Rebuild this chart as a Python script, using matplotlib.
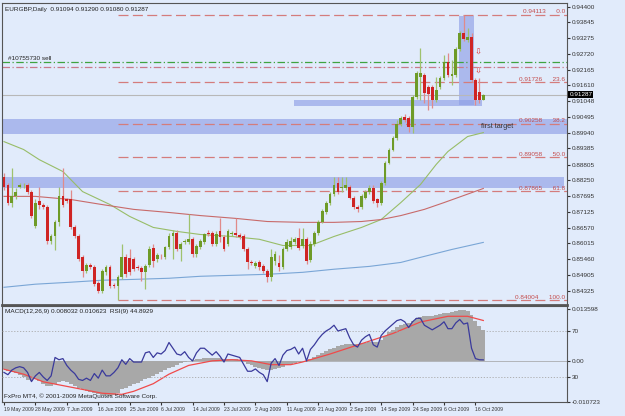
import numpy as np
import matplotlib.pyplot as plt
import matplotlib.transforms as mtrans
from matplotlib.patches import Rectangle

plt.rcParams['font.family'] = ['Liberation Sans', 'DejaVu Sans']

# EURGBP daily candles
opens = [0.8835, 0.8810, 0.8746, 0.8768, 0.8803, 0.8807, 0.8810, 0.8782, 0.8662, 0.8750,
         0.8739, 0.8732, 0.8609, 0.8626, 0.8679, 0.8768, 0.8757, 0.8757, 0.8658, 0.8626,
         0.8552, 0.8502, 0.8524, 0.8517, 0.8460, 0.8432, 0.8499, 0.8517, 0.8453, 0.8449,
         0.8481, 0.8555, 0.8548, 0.8545, 0.8517, 0.8513, 0.8499, 0.8524, 0.8584, 0.8545,
         0.8555, 0.8552, 0.8587, 0.8626, 0.8640, 0.8580, 0.8605, 0.8605, 0.8616, 0.8563,
         0.8587, 0.8605, 0.8640, 0.8637, 0.8598, 0.8644, 0.8623, 0.8598, 0.8633, 0.8637,
         0.8630, 0.8626, 0.8580, 0.8534, 0.8520, 0.8534, 0.8520, 0.8502, 0.8481, 0.8538,
         0.8531, 0.8517, 0.8580, 0.8587, 0.8605, 0.8619, 0.8591, 0.8616, 0.8541, 0.8601,
         0.8637, 0.8679, 0.8711, 0.8746, 0.8775, 0.8814, 0.8796, 0.8799, 0.8803, 0.8764,
         0.8732, 0.8729, 0.8764, 0.8782, 0.8799, 0.8757, 0.8746, 0.8817, 0.8888, 0.8934,
         0.8976, 0.9026, 0.9050, 0.9047, 0.9015, 0.9121, 0.9192, 0.9199, 0.9156, 0.9156,
         0.9111, 0.9156, 0.9188, 0.9245, 0.9195, 0.9199, 0.9291, 0.9347, 0.9323, 0.9333,
         0.9181, 0.9139, 0.91094]
highs = [0.8852, 0.8817, 0.8870, 0.8799, 0.8817, 0.8817, 0.8817, 0.8789, 0.8757, 0.8803,
         0.8746, 0.8739, 0.8633, 0.8686, 0.8803, 0.8870, 0.8764, 0.8792, 0.8665, 0.8633,
         0.8559, 0.8531, 0.8531, 0.8524, 0.8467, 0.8510, 0.8524, 0.8524, 0.8460, 0.8488,
         0.8598, 0.8563, 0.8580, 0.8555, 0.8524, 0.8520, 0.8527, 0.8591, 0.8598, 0.8566,
         0.8563, 0.8594, 0.8640, 0.8648, 0.8648, 0.8605, 0.8616, 0.8704, 0.8623, 0.8598,
         0.8616, 0.8640, 0.8648, 0.8644, 0.8644, 0.8693, 0.8630, 0.8651, 0.8644, 0.8693,
         0.8637, 0.8633, 0.8587, 0.8541, 0.8538, 0.8541, 0.8527, 0.8510, 0.8580, 0.8573,
         0.8559, 0.8587, 0.8616, 0.8623, 0.8623, 0.8655, 0.8655, 0.8623, 0.8609, 0.8644,
         0.8686, 0.8722, 0.8753, 0.8782, 0.8835, 0.8835, 0.8835, 0.8835, 0.8810, 0.8771,
         0.8739, 0.8775, 0.8792, 0.8807, 0.8807, 0.8764, 0.8824, 0.8895, 0.8941, 0.8983,
         0.9040, 0.9054, 0.9061, 0.9054, 0.9128, 0.9213, 0.9294, 0.9206, 0.9164, 0.9164,
         0.9192, 0.9195, 0.9270, 0.9277, 0.9252, 0.9298, 0.9354, 0.9411, 0.9365, 0.9347,
         0.9188, 0.9188, 0.91290]
lows = [0.8792, 0.8739, 0.8729, 0.8757, 0.8796, 0.8799, 0.8775, 0.8690, 0.8655, 0.8722,
        0.8725, 0.8601, 0.8601, 0.8577, 0.8662, 0.8732, 0.8743, 0.8651, 0.8619, 0.8538,
        0.8481, 0.8495, 0.8510, 0.8449, 0.8425, 0.8425, 0.8488, 0.8442, 0.8442, 0.8400,
        0.8474, 0.8481, 0.8488, 0.8502, 0.8506, 0.8467, 0.8439, 0.8517, 0.8517, 0.8534,
        0.8545, 0.8545, 0.8580, 0.8545, 0.8573, 0.8538, 0.8598, 0.8598, 0.8552, 0.8552,
        0.8580, 0.8598, 0.8626, 0.8591, 0.8591, 0.8605, 0.8573, 0.8591, 0.8626, 0.8623,
        0.8616, 0.8573, 0.8510, 0.8524, 0.8513, 0.8506, 0.8495, 0.8464, 0.8467, 0.8524,
        0.8502, 0.8510, 0.8573, 0.8580, 0.8598, 0.8577, 0.8584, 0.8527, 0.8534, 0.8594,
        0.8630, 0.8672, 0.8704, 0.8739, 0.8768, 0.8778, 0.8782, 0.8792, 0.8757, 0.8725,
        0.8711, 0.8722, 0.8757, 0.8775, 0.8743, 0.8729, 0.8739, 0.8810, 0.8881, 0.8927,
        0.8969, 0.9019, 0.9033, 0.8997, 0.8994, 0.9114, 0.9111, 0.9100, 0.9075, 0.9082,
        0.9103, 0.9149, 0.9181, 0.9192, 0.9164, 0.9192, 0.9284, 0.9319, 0.9316, 0.9174,
        0.9093, 0.9100, 0.91080]
closes = [0.8803, 0.8746, 0.8768, 0.8785, 0.8810, 0.8810, 0.8782, 0.8697, 0.8746, 0.8739,
          0.8732, 0.8609, 0.8626, 0.8679, 0.8768, 0.8739, 0.8750, 0.8658, 0.8626, 0.8545,
          0.8502, 0.8524, 0.8517, 0.8457, 0.8432, 0.8502, 0.8517, 0.8449, 0.8449, 0.8481,
          0.8555, 0.8492, 0.8499, 0.8510, 0.8513, 0.8499, 0.8520, 0.8580, 0.8538, 0.8559,
          0.8552, 0.8587, 0.8626, 0.8640, 0.8580, 0.8598, 0.8609, 0.8616, 0.8563, 0.8591,
          0.8609, 0.8633, 0.8633, 0.8598, 0.8633, 0.8623, 0.8580, 0.8644, 0.8637, 0.8630,
          0.8623, 0.8580, 0.8534, 0.8531, 0.8531, 0.8517, 0.8502, 0.8481, 0.8552, 0.8563,
          0.8517, 0.8580, 0.8605, 0.8609, 0.8616, 0.8584, 0.8616, 0.8538, 0.8601, 0.8637,
          0.8679, 0.8715, 0.8746, 0.8775, 0.8810, 0.8785, 0.8803, 0.8807, 0.8764, 0.8732,
          0.8722, 0.8768, 0.8782, 0.8799, 0.8750, 0.8746, 0.8817, 0.8888, 0.8934, 0.8976,
          0.9026, 0.9047, 0.9040, 0.9015, 0.9121, 0.9206, 0.9206, 0.9135, 0.9132, 0.9111,
          0.9146, 0.9188, 0.9245, 0.9199, 0.9202, 0.9291, 0.9347, 0.9326, 0.9333, 0.9181,
          0.9111, 0.9111, 0.91287]

# moving averages read at a few bars
ma_fast_bars = [0, 5, 9, 15, 20, 27, 32, 38, 44, 50, 58, 65, 71, 78, 84, 91, 96, 101, 106, 110, 113, 118, 122]
ma_fast = [0.8962, 0.8934, 0.8898, 0.8856, 0.8785, 0.8739, 0.8697, 0.8658, 0.8644, 0.8633, 0.8626, 0.8616,
           0.8594, 0.8594, 0.8626, 0.8658, 0.8686, 0.8746, 0.8810, 0.8881, 0.8927, 0.8980, 0.8994]
ma_mid_bars = [0, 8, 17, 25, 33, 42, 50, 59, 67, 76, 84, 91, 96, 101, 107, 112, 117, 122]
ma_mid = [0.8768, 0.8768, 0.8757, 0.8739, 0.8722, 0.8711, 0.8700, 0.8690, 0.8679, 0.8676, 0.8676, 0.8679,
          0.8686, 0.8700, 0.8722, 0.8746, 0.8771, 0.8796]
ma_slow_bars = [0, 8, 17, 25, 33, 42, 50, 67, 76, 84, 93, 101, 106, 114, 122]
ma_slow = [0.8446, 0.8457, 0.8464, 0.8471, 0.8474, 0.8478, 0.8485, 0.8492, 0.8499, 0.8510, 0.8520, 0.8534,
           0.8552, 0.8580, 0.8605]

# fibonacci retracement
fib_levels = [0.94113, 0.91727, 0.90251, 0.89059, 0.87866, 0.84004]
fib_labels = ["0.94113", "0.91726", "0.90258", "0.89058", "0.87865", "0.84004"]
fib_pct = ["0.0", "23.6", "38.2", "50.0", "61.8", "100.0"]
fib_start_bar = 29

order_level = 0.9245
order_open = 0.9227
last_price = 0.91287

price_ticks = [0.94400, 0.93845, 0.93275, 0.92720, 0.92165, 0.91610, 0.91048, 0.90495, 0.89940, 0.89385,
               0.88805, 0.88250, 0.87695, 0.87125, 0.86570, 0.86015, 0.85460, 0.84905, 0.84325]

date_labels = ["19 May 2009", "28 May 2009", "7 Jun 2009", "16 Jun 2009", "25 Jun 2009", "6 Jul 2009",
               "14 Jul 2009", "23 Jul 2009", "2 Aug 2009", "11 Aug 2009", "21 Aug 2009", "2 Sep 2009",
               "14 Sep 2009", "24 Sep 2009", "6 Oct 2009", "16 Oct 2009"]

# MACD main (histogram), signal and RSI(9)
macd = [-0.0022, -0.0026, -0.0030, -0.0033, -0.0037, -0.0042, -0.0050, -0.0052, -0.0048, -0.0054,
        -0.0060, -0.0066, -0.0065, -0.0060, -0.0055, -0.0053, -0.0055, -0.0060, -0.0065, -0.0070,
        -0.0075, -0.0078, -0.0082, -0.0085, -0.0088, -0.0089, -0.0090, -0.0091, -0.0090, -0.0085,
        -0.0075, -0.0070, -0.0065, -0.0062, -0.0058, -0.0053, -0.0048, -0.0044, -0.0040, -0.0035,
        -0.0030, -0.0025, -0.0020, -0.0015, -0.0010, -0.0006, -0.0002, 0.0000, 0.0002, 0.0004,
        0.0005, 0.0007, 0.0008, 0.0008, 0.0008, 0.0007, 0.0006, 0.0006, 0.0005, 0.0004,
        0.0002, -0.0003, -0.0008, -0.0012, -0.0015, -0.0018, -0.0022, -0.0025, -0.0025, -0.0022,
        -0.0020, -0.0016, -0.0012, -0.0008, -0.0005, -0.0003, 0.0000, -0.0002, 0.0006, 0.0010,
        0.0015, 0.0020, 0.0025, 0.0030, 0.0035, 0.0038, 0.0042, 0.0044, 0.0045, 0.0045,
        0.0045, 0.0046, 0.0048, 0.0050, 0.0050, 0.0049, 0.0055, 0.0065, 0.0075, 0.0082,
        0.0090, 0.0095, 0.0098, 0.0100, 0.0105, 0.0112, 0.0116, 0.0117, 0.0118, 0.0117,
        0.0120, 0.0122, 0.0126, 0.0126, 0.0127, 0.0130, 0.0133, 0.0133, 0.0132, 0.0120,
        0.0105, 0.0092, 0.0080]
signal_bars = [0, 5, 10, 15, 20, 25, 30, 33, 38, 42, 47, 53, 58, 63, 68, 73, 76, 83, 91, 99, 106, 113, 118, 122]
signal = [-0.0022, -0.0035, -0.0055, -0.0065, -0.0075, -0.0085, -0.0088, -0.0080, -0.0060, -0.0035, -0.0012,
          0.0000, 0.0003, 0.0000, -0.0010, -0.0010, -0.0003, 0.0018, 0.0045, 0.0072, 0.0102, 0.0117, 0.0117, 0.0106]
rsi = [34, 32, 36, 38, 39, 38, 34, 26, 31, 34,
       30, 27, 31, 47, 45, 46, 40, 36, 33, 28,
       27, 29, 27, 33, 29, 36, 31, 31, 34, 38,
       45, 41, 46, 43, 43, 43, 51, 52, 47, 51,
       50, 53, 60, 55, 50, 49, 52, 47, 44, 51,
       55, 55, 52, 49, 52, 48, 43, 50, 49, 48,
       47, 41, 35, 35, 37, 34, 32, 26, 42, 46,
       40, 49, 53, 54, 56, 50, 55, 44, 54, 58,
       63, 67, 70, 72, 75, 70, 71, 72, 64, 58,
       56, 62, 65, 67, 58, 56, 66, 70, 73, 76,
       79, 80, 78, 73, 78, 81, 81, 75, 73, 71,
       73, 75, 78, 72, 72, 77, 80, 76, 77, 55,
       46, 45, 44.89]

bg = '#e1ebfb'
fs = 4.6
n = len(closes)
x = np.arange(n)
o = np.array(opens)
c = np.array(closes)
up = c >= o
xmax = 143.3

fig = plt.figure(figsize=(6.25, 4.16), dpi=100)
fig.patch.set_facecolor(bg)
ax = fig.add_axes([0.0032, 0.268, 0.904, 0.7248])
ax2 = fig.add_axes([0.0032, 0.0337, 0.904, 0.2307], sharex=ax)
ax3 = ax2.twinx()
for a in (ax, ax2):
    a.set_facecolor(bg)
    for s in a.spines.values():
        s.set_color('#555555')
        s.set_linewidth(0.8)
ax.spines['bottom'].set_linewidth(2.0)

# zones
zone_kw = dict(facecolor='#8e9fe6', alpha=0.65, edgecolor='none', zorder=1)
ax.add_patch(Rectangle((-0.5, 0.8990), xmax + 0.5, 0.0053, **zone_kw))
ax.add_patch(Rectangle((-0.5, 0.8799), 143.0, 0.0039, **zone_kw))
ax.add_patch(Rectangle((73.8, 0.9089), 47.8, 0.0022, **zone_kw))
ax.add_patch(Rectangle((115.8, 0.9093), 3.8, 0.0314, **zone_kw))

# horizontal lines
ax.axhline(last_price, color='#b8b8b8', lw=0.8, zorder=2)
ax.axhline(order_level, color='#3fa33f', lw=0.9, linestyle=(0, (6, 2, 1, 2)), zorder=2)
ax.axhline(order_open, color='#c97a8a', lw=0.9, linestyle=(0, (6, 2, 1, 2)), zorder=2)
ax.text(1.0, order_level + 0.0004, '#10755730 sell', fontsize=fs, color='#222222', va='bottom')

for lev, lab, pct in zip(fib_levels, fib_labels, fib_pct):
    ax.hlines(lev, fib_start_bar, xmax, colors='#d47c7c', lw=0.9, linestyles=(0, (8, 3.5)), zorder=2)
    ax.text(142.8, lev + 0.0002, lab + '      ' + pct, fontsize=fs, color='#c44c4c',
            ha='right', va='bottom', zorder=3)

# moving averages
ax.plot(ma_fast_bars, ma_fast, color='#98bd68', lw=0.8, zorder=3)
ax.plot(ma_mid_bars, ma_mid, color='#c86a6a', lw=0.8, zorder=3)
ax.plot(ma_slow_bars, ma_slow, color='#7aa6d6', lw=0.8, zorder=3)

# candles
ax.vlines(x, lows, highs, colors=np.where(up, '#9fc26e', '#e08a8a'), lw=0.9, zorder=4)
body_lo = np.minimum(o, c)
body_h = np.maximum(np.abs(c - o), 0.00012)
ax.bar(x, body_h, 0.7, bottom=body_lo, color=np.where(up, '#6e9b28', '#cf2424'), linewidth=0, zorder=5)

ax.text(121.5, 0.9016, 'first target', fontsize=5.2, color='#333333', va='center', zorder=6)
for lev in (0.9280, 0.9213):
    ax.text(120.6, lev, '\u21e9', fontsize=6, color='#e03030', ha='center', va='center', zorder=6,
            family=['DejaVu Sans'])

ax.text(0.006, 0.988, 'EURGBP,Daily  0.91094 0.91290 0.91080 0.91287', transform=ax.transAxes,
        fontsize=fs, color='#222222', va='top')

ax.set_xlim(-0.5, xmax)
ax.set_ylim(0.8385, 0.9453)
ax.yaxis.tick_right()
ax.set_yticks(price_ticks)
ax.set_yticklabels(['%.5f' % t for t in price_ticks])
ax.tick_params(axis='y', labelsize=fs, length=2, pad=1.5, colors='#333333')
ax.tick_params(axis='x', bottom=False, labelbottom=False)
tr = mtrans.blended_transform_factory(ax.transAxes, ax.transData)
ax.text(1.004, last_price, '%.5f' % last_price, transform=tr, fontsize=fs, color='white',
        va='center', ha='left', bbox=dict(facecolor='black', edgecolor='none', pad=0.6), zorder=10)

# MACD + RSI panel
ax2.axhline(0, color='#a0a0a0', lw=0.5)
ax2.bar(x, macd, 1.0, color='#a8a8a8', linewidth=0, zorder=2)
ax2.plot(signal_bars, signal, color='#f04a4a', lw=0.9, zorder=3)
ax2.set_ylim(-0.0108, 0.0144)
ax2.set_yticks([0.013598, 0.0, -0.010723])
ax2.set_yticklabels(['0.013598', '0.00', '-0.010723'])
ax2.yaxis.tick_right()
ax2.tick_params(axis='y', labelsize=fs, length=2, pad=1.5, colors='#333333')

ax3.set_ylim(8.3, 91.7)
ax3.axhline(70, color='#a8a8a8', lw=0.6, linestyle=(0, (1.5, 2)))
ax3.axhline(30, color='#a8a8a8', lw=0.6, linestyle=(0, (1.5, 2)))
ax3.plot(x, rsi, color='#3a3a9c', lw=0.9, zorder=4)
ax3.set_yticks([70, 30])
ax3.set_yticklabels(['70', '30'])
ax3.tick_params(axis='y', labelsize=fs, length=2, pad=1.5, colors='#333333')
for s in ax3.spines.values():
    s.set_visible(False)

ax2.text(0.006, 0.965, 'MACD(12,26,9) 0.008032 0.010623  RSI(9) 44.8929', transform=ax2.transAxes,
         fontsize=fs, color='#222222', va='top')
ax2.text(0.004, 0.03, 'FxPro MT4, \u00a9 2001-2009 MetaQuotes Software Corp.', transform=ax2.transAxes,
         fontsize=fs, color='#222222', va='bottom')

ax2.set_xticks(np.arange(len(date_labels)) * 8)
ax2.set_xticklabels(date_labels, ha='left')
ax2.tick_params(axis='x', labelsize=3.7, length=2, pad=1.5, colors='#333333')

fig.savefig('out.png', dpi=100, facecolor=bg)
